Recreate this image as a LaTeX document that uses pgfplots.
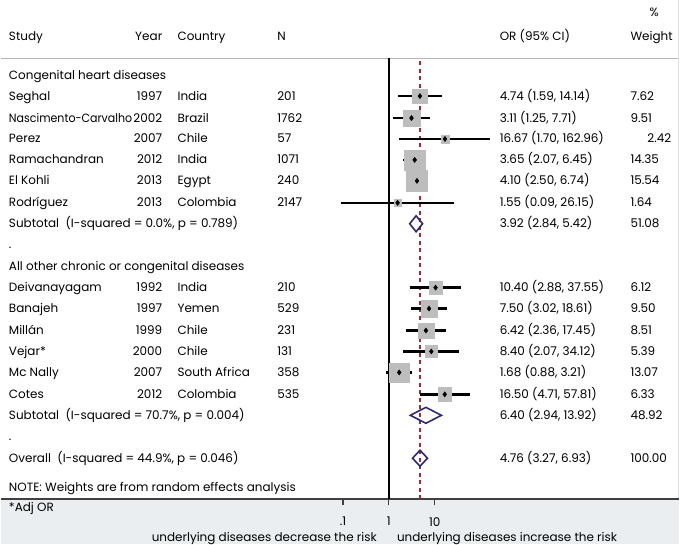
\documentclass[border=0pt]{standalone}
\usepackage{fontspec}
\setmainfont{Poppins}
\usepackage{graphicx}
\usepackage{pgfplots}
\usepackage{pgfplotstable}
\pgfplotsset{compat=1.18}
\definecolor{boxgray}{HTML}{BDBDBD}
\definecolor{dnavy}{HTML}{2D2A6E}
\definecolor{dred}{HTML}{9E2A3A}
\definecolor{bandgray}{HTML}{EBEEF0}
\definecolor{axisgray}{HTML}{404040}
\definecolor{sepgray}{HTML}{B4B4B4}

\pgfplotstableread{
y    or     lo    hi     w
449  4.74   1.59  14.14  7.62
427  3.11   1.25  7.71   9.51
406  16.67  1.70  162.96 2.42
385  3.65   2.07  6.45   14.35
364  4.10   2.50  6.74   15.54
342  1.55   0.09  26.15  1.64
257  10.40  2.88  37.55  6.12
236  7.50   3.02  18.61  9.50
214  6.42   2.36  17.45  8.51
193  8.40   2.07  34.12  5.39
172  1.68   0.88  3.21   13.07
150  16.50  4.71  57.81  6.33
}\studies

\newcommand\srow[7]{%
  \node[anchor=base west] at (axis cs:8,#1-4) {#2};
  \node[anchor=base east] at (axis cs:162,#1-4) {#3};
  \node[anchor=base west] at (axis cs:177,#1-4) {#4};
  \node[anchor=base west] at (axis cs:277,#1-4) {#5};
  \node[anchor=base west] at (axis cs:500,#1-4) {#6};
  \node[anchor=base west] at (axis cs:631,#1-4) {#7};}
\newcommand\lrow[2]{\node[anchor=base west] at (axis cs:8,#1-4) {#2};}

\begin{document}
\begin{tikzpicture}[font=\fontsize{12}{14}\selectfont, every node/.append style={inner sep=0pt}]
\begin{axis}[at={(0,0)}, anchor=south west, scale only axis, width=680pt, height=545pt,
  xmin=0, xmax=680, ymin=0, ymax=545, hide axis, clip=false]
\fill[white] (axis cs:0,0) rectangle (axis cs:680,545);
\fill[bandgray] (axis cs:0,0) rectangle (axis cs:680,45);
\draw[sepgray, line width=0.8pt] (axis cs:0,487) -- (axis cs:680,487);
\draw[black!12, line width=0.6pt] (axis cs:679,45) -- (axis cs:679,545);
% header
\node[anchor=base west] at (axis cs:8,505) {Study};
\node[anchor=base east] at (axis cs:162,505) {Year};
\node[anchor=base west] at (axis cs:177,505) {Country};
\node[anchor=base west] at (axis cs:277,505) {N};
\node[anchor=base west] at (axis cs:500,505) {OR (95\% CI)};
\node[anchor=base west] at (axis cs:631,505) {Weight};
\node[anchor=base] at (axis cs:655,529) {\%};
% rows
\lrow{470}{Congenital heart diseases}
\srow{449}{Seghal}{1997}{India}{201}{4.74 (1.59, 14.14)}{7.62}
\srow{427}{\scalebox{0.92}[1]{Nascimento-Carvalho}}{2002}{Brazil}{1762}{3.11 (1.25, 7.71)}{9.51}
\srow{406}{Perez}{2007}{Chile}{57}{16.67 (1.70, 162.96)}{}
\node[anchor=base west] at (axis cs:648,402) {2.42};
\srow{385}{Ramachandran}{2012}{India}{1071}{3.65 (2.07, 6.45)}{14.35}
\srow{364}{El Kohli}{2013}{Egypt}{240}{4.10 (2.50, 6.74)}{15.54}
\srow{342}{Rodríguez}{2013}{Colombia}{2147}{1.55 (0.09, 26.15)}{1.64}
\srow{321}{Subtotal\ \ (I-squared = 0.0\%, p = 0.789)}{}{}{}{3.92 (2.84, 5.42)}{51.08}
\lrow{300}{.}
\lrow{278}{All other chronic or congenital diseases}
\srow{257}{Deivanayagam}{1992}{India}{210}{10.40 (2.88, 37.55)}{6.12}
\srow{236}{Banajeh}{1997}{Yemen}{529}{7.50 (3.02, 18.61)}{9.50}
\srow{214}{Millán}{1999}{Chile}{231}{6.42 (2.36, 17.45)}{8.51}
\srow{193}{Vejar*}{2000}{Chile}{131}{8.40 (2.07, 34.12)}{5.39}
\srow{172}{Mc Nally}{2007}{South Africa}{358}{1.68 (0.88, 3.21)}{13.07}
\srow{150}{Cotes}{2012}{Colombia}{535}{16.50 (4.71, 57.81)}{6.33}
\srow{129}{Subtotal\ \ (I-squared = 70.7\%, p = 0.004)}{}{}{}{6.40 (2.94, 13.92)}{48.92}
\lrow{108}{.}
\srow{86}{Overall\ \ (I-squared = 44.9\%, p = 0.046)}{}{}{}{4.76 (3.27, 6.93)}{100.00}
\lrow{57}{NOTE: Weights are from random effects analysis}
\lrow{37}{*Adj OR}
\node[anchor=base east] at (axis cs:377,3) {underlying diseases decrease the risk};
\node[anchor=base west] at (axis cs:397,3) {underlying diseases increase the risk};
\end{axis}
\begin{axis}[at={(0,45pt)}, anchor=south west, scale only axis, width=680pt, height=442pt,
  xmode=log, xmin=3.496e-9, xmax=2.119e6, ymin=45, ymax=487, clip=false,
  axis x line*=bottom, axis y line=none,
  x axis line style={draw=axisgray, line width=1.6pt, -},
  xtick={0.1,1,10}, xticklabels={.1,1,10}, xminorticks=false,
  tick align=outside, major tick length=6pt,
  xtick style={draw=axisgray, line width=1.2pt},
  xticklabel style={yshift=-12pt, font=\fontsize{12}{14}\selectfont},
  /pgf/number format/assume math mode=true]
\addplot[black, line width=1.3pt] coordinates {(1,45) (1,487)};
\addplot[dred, line width=1.2pt, dash pattern=on 4pt off 3.5pt] coordinates {(4.76,45) (4.76,485)};
\addplot[scatter, only marks, mark=square*, scatter/use mapped color={draw=boxgray,fill=boxgray},
  visualization depends on={2.67*sqrt(\thisrow{w}) \as \msz},
  scatter/@pre marker code/.append style={/tikz/mark size=\msz}] table[x=or, y=y] {\studies};
\addplot[draw=black, style={line width=2.4pt}, unbounded coords=jump] coordinates {
(1.59,449) (14.14,449) (nan,nan)
(1.25,427) (7.71,427) (nan,nan)
(1.70,406) (162.96,406) (nan,nan)
(2.07,385) (6.45,385) (nan,nan)
(2.50,364) (6.74,364) (nan,nan)
(0.09,342) (26.15,342) (nan,nan)
(2.88,257) (37.55,257) (nan,nan)
(3.02,236) (18.61,236) (nan,nan)
(2.36,214) (17.45,214) (nan,nan)
(2.07,193) (34.12,193) (nan,nan)
(0.88,172) (3.21,172) (nan,nan)
(4.71,150) (57.81,150)
};
\addplot[only marks, mark=diamond*, mark size=2.6pt, black] table[x=or, y=y] {\studies};
\addplot[dnavy, line width=1.6pt, line join=miter] coordinates {(2.84,321) (3.92,329) (5.42,321) (3.92,313)} -- cycle;
\addplot[dnavy, line width=1.6pt, line join=miter] coordinates {(2.94,129) (6.40,137) (13.92,129) (6.40,121)} -- cycle;
\addplot[dnavy, line width=1.6pt, line join=miter] coordinates {(3.27,86) (4.76,94) (6.93,86) (4.76,78)} -- cycle;
\end{axis}
\end{tikzpicture}
\end{document}
